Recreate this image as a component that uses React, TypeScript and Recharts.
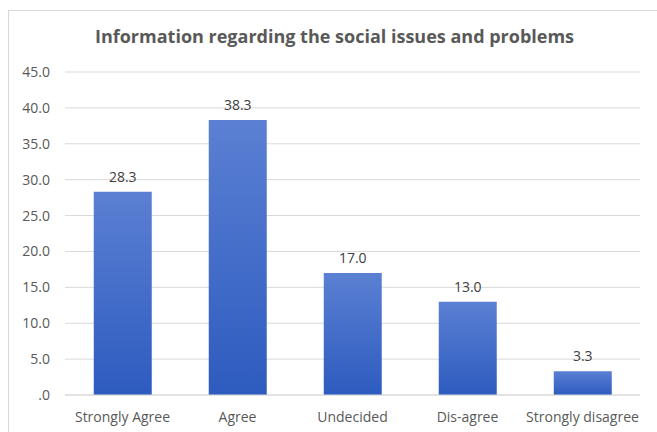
import React from 'react';
import { BarChart, Bar, XAxis, YAxis, CartesianGrid, LabelList } from 'recharts';

const categories = ['Strongly Agree', 'Agree', 'Undecided', 'Dis-agree', 'Strongly disagree'];
const percentages = [28.3, 38.3, 17.0, 13.0, 3.3];
const yTicks = [0, 5, 10, 15, 20, 25, 30, 35, 40, 45];

const data = categories.map((name, i) => ({ name, value: percentages[i] }));

// Excel-ish number format: 0 shows as ".0"
const fmt = (v: any) => (Number(v) === 0 ? '.0' : Number(v).toFixed(1));

const FONT = '"Open Sans", "DejaVu Sans", sans-serif';

export default function App() {
  return (
    <div
      style={{
        position: 'absolute',
        left: 8,
        top: 10,
        width: 660,
        height: 430,
        border: '1px solid #d9d9d9',
        background: '#fff',
        fontFamily: FONT,
      }}
    >
      <div
        style={{
          position: 'absolute',
          left: 0,
          top: 13,
          width: 651,
          textAlign: 'center',
          fontSize: 18,
          fontWeight: 700,
          color: '#595959',
        }}
      >
        Information regarding the social issues and problems
      </div>
      <BarChart
        width={649}
        height={422}
        data={data}
        margin={{ top: 61, right: 18, bottom: 8, left: 0 }}
        barCategoryGap="25%"
      >
        <defs>
          <linearGradient id="barFill" x1="0" y1="0" x2="0" y2="1">
            <stop offset="0%" stopColor="#5b80d3" />
            <stop offset="100%" stopColor="#2d5bbf" />
          </linearGradient>
        </defs>
        <CartesianGrid vertical={false} stroke="#d9d9d9" />
        <XAxis
          dataKey="name"
          axisLine={{ stroke: '#d9d9d9' }}
          tickLine={false}
          tickMargin={11}
          tick={{ fill: '#595959', fontSize: 14, fontFamily: FONT }}
          interval={0}
        />
        <YAxis
          domain={[0, 45]}
          ticks={yTicks}
          width={56}
          axisLine={false}
          tickLine={false}
          tickMargin={9}
          tickFormatter={fmt}
          tick={{ fill: '#595959', fontSize: 14, fontFamily: FONT }}
        />
        <Bar dataKey="value" fill="url(#barFill)" isAnimationActive={false}>
          <LabelList
            dataKey="value"
            position="top"
            offset={10}
            formatter={fmt}
            style={{ fill: '#404040', fontSize: 14, fontFamily: FONT }}
          />
        </Bar>
      </BarChart>
    </div>
  );
}
